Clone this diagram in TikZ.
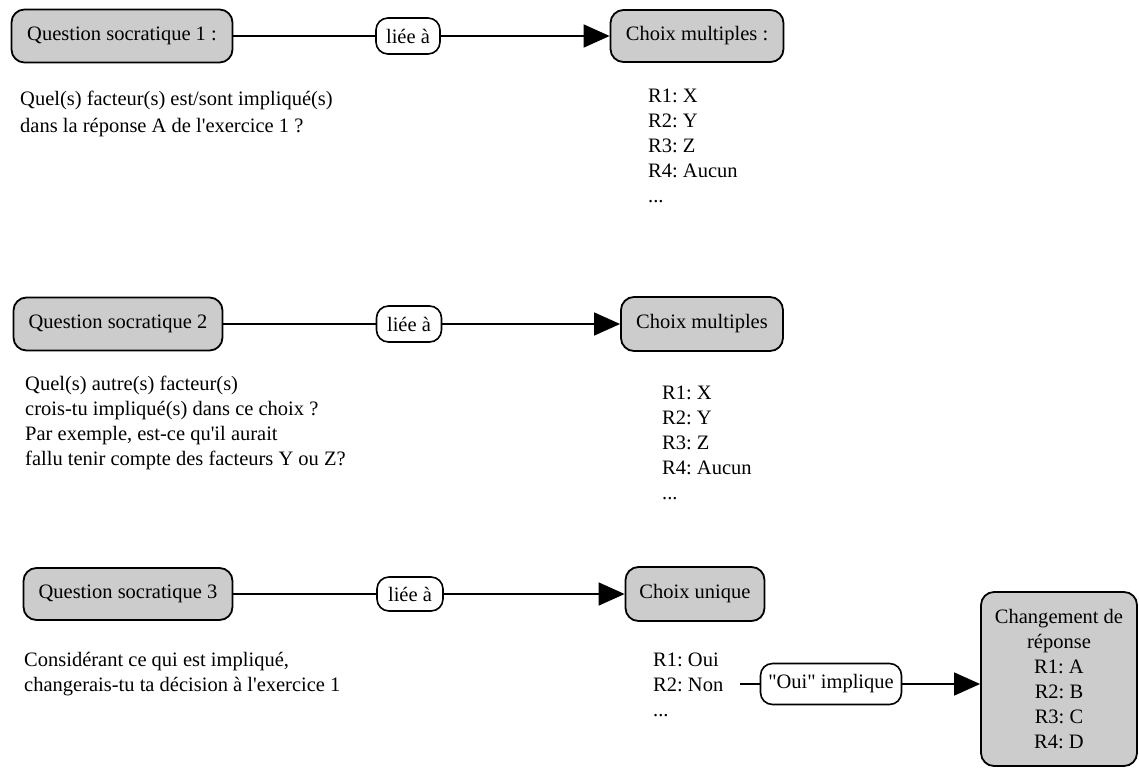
\documentclass[tikz,border=0pt]{standalone}
\usepackage{fontspec}
\setmainfont{Liberation Serif}[Ligatures=TeXOff]
\usetikzlibrary{arrows.meta}
\frenchspacing
\begin{document}
\begin{tikzpicture}[x=1pt,y=-1pt,
  font=\fontsize{20.5}{25}\selectfont\frenchspacing,
  box/.style={draw=black,line width=1.8pt,fill=black!20,rounded corners=13pt,inner sep=0pt},
  link/.style={draw=black,line width=1.6pt,fill=white,rounded corners=12pt,inner sep=0pt},
  conn/.style={line width=1.6pt},
  arr/.style={conn,-{Triangle[length=26pt,width=23pt]}},
  txt/.style={align=left,inner sep=0pt,anchor=west}
]
\useasboundingbox (0,0) rectangle (1139,768);

% Row 1
\node[box,minimum width=221pt,minimum height=53pt] (q1) at (122,36) {Question socratique 1 :};
\node[link,minimum width=64pt,minimum height=36pt] (l1) at (408,36) {liée à};
\node[box,minimum width=173pt,minimum height=52pt] (c1) at (697,36) {Choix multiples :};
\draw[conn] (q1) -- (l1);
\draw[arr] (l1) -- (c1);
\node[txt,font=\fontsize{20.5}{27}\selectfont\frenchspacing] (t1) at (20,113.5) {Quel(s) facteur(s) est/sont impliqué(s)\\dans la réponse A de l'exercice 1 ?};
\node[txt] (r1) at (648,146) {R1: X\\R2: Y\\R3: Z\\R4: Aucun\\...};

% Row 2
\node[box,minimum width=209pt,minimum height=53pt] (q2) at (118,324) {Question socratique 2};
\node[link,minimum width=65pt,minimum height=36pt] (l2) at (409,324) {liée à};
\node[box,minimum width=162pt,minimum height=54pt] (c2) at (702,324) {Choix multiples};
\draw[conn] (q2) -- (l2);
\draw[arr] (l2) -- (c2);
\node[txt] (t2) at (25,423) {Quel(s) autre(s) facteur(s)\\crois-tu impliqué(s) dans ce choix ?\\Par exemple, est-ce qu'il aurait\\fallu tenir compte des facteurs Y ou Z?};
\node[txt] (r2) at (662,443) {R1: X\\R2: Y\\R3: Z\\R4: Aucun\\...};

% Row 3
\node[box,minimum width=209pt,minimum height=52pt] (q3) at (128,594) {Question socratique 3};
\node[link,minimum width=66pt,minimum height=34pt] (l3) at (410,594) {liée à};
\node[box,minimum width=139pt,minimum height=54pt] (c3) at (695,594) {Choix unique};
\draw[conn] (q3) -- (l3);
\draw[arr] (l3) -- (c3);
\node[txt] (t3) at (24,674) {Considérant ce qui est impliqué,\\changerais-tu ta décision à l'exercice 1};
\node[txt] (r3) at (653,685) {R1: Oui\\R2: Non\\...};

\node[link,minimum width=141pt,minimum height=41pt] (imp) at (831,684) {"Oui" implique};
\node[box,align=center,minimum width=156pt,minimum height=174pt] (chg) at (1059,679) {Changement de\\réponse\\R1: A\\R2: B\\R3: C\\R4: D};
\coordinate (s3) at (740,684);
\draw[conn] (s3) -- (imp);
\draw[arr] (imp) -- (imp -| chg.west);
\end{tikzpicture}
\end{document}
